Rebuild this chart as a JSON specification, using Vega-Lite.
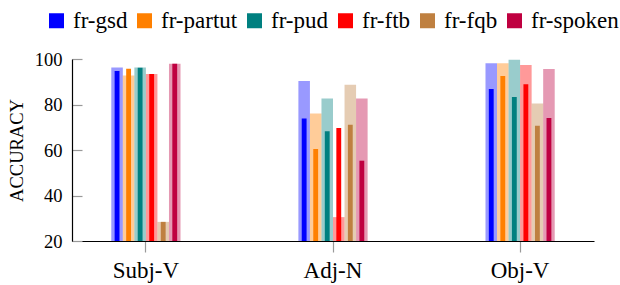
{
  "$schema": "https://vega.github.io/schema/vega-lite/v6.json",
  "autosize": "none",
  "width": 522,
  "height": 182,
  "padding": {"left": 72, "top": 59, "right": 26, "bottom": 44},
  "background": "white",
  "config": {
    "font": "Liberation Serif",
    "view": {"stroke": null},
    "axis": {"labelFont": "Liberation Serif", "titleFont": "Liberation Serif"},
    "legend": {"labelFont": "Liberation Serif", "labelFontWeight": "normal"}
  },
  "data": {
    "values": [
      {"relation": "Subj-V", "treebank": "fr-gsd", "upper": 96.3, "acc": 94.7},
      {"relation": "Subj-V", "treebank": "fr-partut", "upper": 92.7, "acc": 95.7},
      {"relation": "Subj-V", "treebank": "fr-pud", "upper": 96.3, "acc": 96.2},
      {"relation": "Subj-V", "treebank": "fr-ftb", "upper": 93.4, "acc": 93.4},
      {"relation": "Subj-V", "treebank": "fr-fqb", "upper": 28.4, "acc": 28.4},
      {"relation": "Subj-V", "treebank": "fr-spoken", "upper": 97.9, "acc": 97.9},
      {"relation": "Adj-N", "treebank": "fr-gsd", "upper": 90.3, "acc": 73.9},
      {"relation": "Adj-N", "treebank": "fr-partut", "upper": 76.0, "acc": 60.4},
      {"relation": "Adj-N", "treebank": "fr-pud", "upper": 82.6, "acc": 68.2},
      {"relation": "Adj-N", "treebank": "fr-ftb", "upper": 30.5, "acc": 69.7},
      {"relation": "Adj-N", "treebank": "fr-fqb", "upper": 88.7, "acc": 71.1},
      {"relation": "Adj-N", "treebank": "fr-spoken", "upper": 82.6, "acc": 55.3},
      {"relation": "Obj-V", "treebank": "fr-gsd", "upper": 98.1, "acc": 86.8},
      {"relation": "Obj-V", "treebank": "fr-partut", "upper": 98.1, "acc": 92.5},
      {"relation": "Obj-V", "treebank": "fr-pud", "upper": 99.7, "acc": 83.3},
      {"relation": "Obj-V", "treebank": "fr-ftb", "upper": 97.4, "acc": 88.9},
      {"relation": "Obj-V", "treebank": "fr-fqb", "upper": 80.4, "acc": 70.7},
      {"relation": "Obj-V", "treebank": "fr-spoken", "upper": 95.6, "acc": 74.1}
    ]
  },
  "encoding": {
    "x": {
      "field": "relation",
      "type": "nominal",
      "sort": ["Subj-V", "Adj-N", "Obj-V"],
      "scale": {"paddingInner": 0.63, "paddingOuter": 0.21},
      "axis": {
        "title": null,
        "labelAngle": 0,
        "labelFont": "Liberation Serif",
        "labelFontSize": 23,
        "labelColor": "black",
        "labelPadding": 7,
        "domainColor": "black",
        "domainWidth": 1.2,
        "tickColor": "#999999",
        "tickSize": 11,
        "tickWidth": 1.2
      }
    },
    "color": {
      "field": "treebank",
      "type": "nominal",
      "sort": ["fr-gsd", "fr-partut", "fr-pud", "fr-ftb", "fr-fqb", "fr-spoken"],
      "scale": {
        "domain": ["fr-gsd", "fr-partut", "fr-pud", "fr-ftb", "fr-fqb", "fr-spoken"],
        "range": ["#0000FF", "#FF8000", "#008080", "#FF0000", "#BF8040", "#BF0040"]
      },
      "legend": {
        "title": null,
        "orient": "none",
        "direction": "horizontal",
        "legendX": -27,
        "legendY": -50,
        "padding": 0,
        "symbolType": "square",
        "symbolSize": 225,
        "symbolOpacity": 1,
        "symbolStrokeWidth": 0,
        "labelFont": "Liberation Serif",
        "labelFontWeight": "normal",
        "labelFontSize": 23,
        "labelColor": "black",
        "labelOffset": 5,
        "columnPadding": 5
      }
    }
  },
  "layer": [
    {
      "mark": {"type": "bar", "opacity": 0.4, "clip": true},
      "encoding": {
        "xOffset": {
          "field": "treebank",
          "type": "nominal",
          "sort": ["fr-gsd", "fr-partut", "fr-pud", "fr-ftb", "fr-fqb", "fr-spoken"],
          "scale": {"paddingInner": 0, "paddingOuter": 0}
        },
        "y": {
          "field": "upper",
          "type": "quantitative",
          "scale": {"domain": [20, 100], "zero": false, "nice": false},
          "axis": {
            "title": "ACCURACY",
            "titleFont": "Liberation Serif",
            "titleFontSize": 18.5,
            "titleFontWeight": "normal",
            "titleColor": "black",
            "titlePadding": 8,
            "values": [20, 40, 60, 80, 100],
            "labelFont": "Liberation Serif",
            "labelFontSize": 18.5,
            "labelColor": "black",
            "labelPadding": 20,
            "domainColor": "black",
            "domainWidth": 1.2,
            "tickColor": "#999999",
            "tickSize": -10,
            "tickWidth": 1.2,
            "grid": false
          }
        }
      }
    },
    {
      "mark": {"type": "bar", "clip": true},
      "encoding": {
        "xOffset": {
          "field": "treebank",
          "type": "nominal",
          "sort": ["fr-gsd", "fr-partut", "fr-pud", "fr-ftb", "fr-fqb", "fr-spoken"],
          "scale": {"paddingInner": 0.58, "paddingOuter": 0.29}
        },
        "y": {"field": "acc", "type": "quantitative"}
      }
    }
  ],
  "resolve": {"scale": {"xOffset": "independent"}}
}
